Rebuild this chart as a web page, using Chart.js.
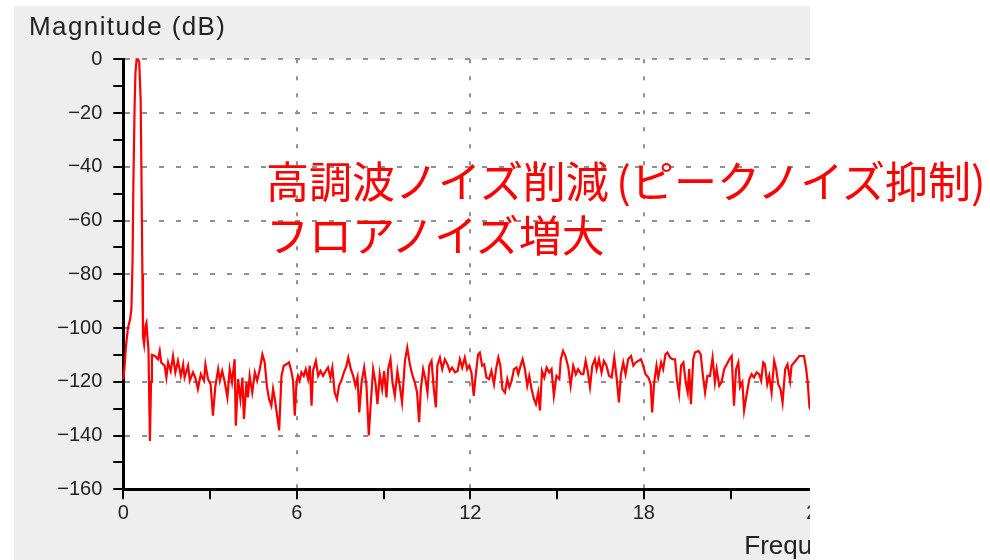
<!DOCTYPE html>
<html>
<head>
<meta charset="utf-8">
<script src="https://cdn.jsdelivr.net/npm/chart.js@4.4.1/dist/chart.umd.min.js"></script>
<style>
html,body{margin:0;padding:0;background:#ffffff;width:990px;height:560px;overflow:hidden;}
#wrap{position:absolute;left:14px;top:6px;width:796px;height:554px;overflow:hidden;background:#eeeeee;}
#c{display:block;}
#note{position:absolute;left:266px;top:152px;color:#ff0000;font-family:"Noto Sans CJK JP","Noto Sans CJK SC",sans-serif;font-size:43px;line-height:54px;white-space:nowrap;}
#note .sp{letter-spacing:-2px;}
</style>
</head>
<body>
<div id="wrap"><canvas id="c" width="1564" height="566"></canvas></div>
<div id="note">高調波ノイズ削減<span class="sp"> </span>(ピークノイズ抑制)<br>フロアノイズ増大</div>
<script>
// Frequency (kHz) of each sample
const freqKHz = [
  0, 0.04, 0.09, 0.16, 0.23, 0.28, 0.32, 0.35, 0.39, 0.42,
  0.46, 0.51, 0.55, 0.60, 0.63, 0.66, 0.68, 0.72, 0.77, 0.80,
  0.84, 0.87, 0.91, 0.92, 0.96, 0.99, 1.09, 1.20, 1.26, 1.31,
  1.43, 1.49, 1.55, 1.64, 1.72, 1.80, 1.89, 1.99, 2.07, 2.12,
  2.24, 2.30, 2.41, 2.49, 2.58, 2.68, 2.79, 2.84, 2.93, 3.02,
  3.10, 3.18, 3.28, 3.34, 3.42, 3.51, 3.60, 3.68, 3.76, 3.85,
  3.89, 3.97, 4.05, 4.12, 4.17, 4.26, 4.31, 4.37, 4.46, 4.55,
  4.63, 4.72, 4.81, 4.89, 4.97, 5.04, 5.12, 5.18, 5.24, 5.32,
  5.39, 5.47, 5.55, 5.64, 5.73, 5.81, 5.87, 5.93, 5.99, 6.04,
  6.10, 6.16, 6.24, 6.31, 6.39, 6.45, 6.51, 6.56, 6.66, 6.74,
  6.82, 6.91, 7.00, 7.08, 7.16, 7.23, 7.31, 7.39, 7.46, 7.54,
  7.63, 7.72, 7.78, 7.87, 7.95, 8.03, 8.10, 8.16, 8.24, 8.33,
  8.41, 8.49, 8.56, 8.64, 8.72, 8.79, 8.87, 8.95, 9.02, 9.10,
  9.16, 9.24, 9.31, 9.39, 9.48, 9.56, 9.64, 9.74, 9.82, 9.91,
  9.99, 10.08, 10.16, 10.23, 10.29, 10.37, 10.45, 10.52, 10.58, 10.66,
  10.74, 10.81, 10.86, 10.95, 11.03, 11.12, 11.21, 11.29, 11.37, 11.47,
  11.56, 11.64, 11.72, 11.81, 11.89, 11.96, 12.04, 12.12, 12.19, 12.27,
  12.33, 12.41, 12.48, 12.56, 12.65, 12.73, 12.82, 12.89, 12.97, 13.04,
  13.11, 13.20, 13.28, 13.35, 13.43, 13.51, 13.60, 13.66, 13.74, 13.81,
  13.89, 13.97, 14.04, 14.12, 14.20, 14.27, 14.35, 14.41, 14.48, 14.56,
  14.64, 14.73, 14.81, 14.89, 14.98, 15.08, 15.13, 15.21, 15.29, 15.39,
  15.47, 15.56, 15.65, 15.73, 15.83, 15.91, 15.99, 16.06, 16.14, 16.22,
  16.31, 16.37, 16.45, 16.54, 16.62, 16.71, 16.80, 16.89, 16.98, 17.06,
  17.14, 17.21, 17.29, 17.37, 17.46, 17.56, 17.64, 17.72, 17.81, 17.90,
  17.98, 18.06, 18.16, 18.24, 18.29, 18.36, 18.44, 18.50, 18.60, 18.67,
  18.75, 18.82, 18.91, 18.99, 19.08, 19.15, 19.22, 19.29, 19.37, 19.45,
  19.52, 19.57, 19.63, 19.71, 19.77, 19.89, 19.97, 20.04, 20.12, 20.20,
  20.29, 20.38, 20.46, 20.52, 20.61, 20.69, 20.78, 20.87, 20.96, 21.04,
  21.12, 21.19, 21.27, 21.33, 21.41, 21.47, 21.56, 21.65, 21.73, 21.81,
  21.90, 21.99, 22.06, 22.13, 22.19, 22.27, 22.34, 22.42, 22.51, 22.58,
  22.65, 22.73, 22.80, 22.89, 22.97, 23.06, 23.11, 23.20, 23.29, 23.38,
  23.46, 23.54, 23.61, 23.67, 23.73, 23.80
];

// Magnitude (dB) at each frequency
const magnitudeDb = [
  -119, -115, -107, -100, -97, -93, -75, -45, -18, -5,
  0, 0, -1, -15, -45, -80, -103, -106, -99, -98,
  -104, -108, -135, -142, -120, -110, -110.4, -111.6, -108.5, -112.8,
  -114, -118.4, -112.8, -116, -110.4, -116.5, -112.2, -117.8, -113.5, -118.4,
  -114, -119.6, -116.5, -118.4, -122.7, -117.2, -119.6, -113.5, -119, -120.9,
  -132.6, -122, -115.3, -119.6, -116, -120.2, -125.8, -115.3, -120.2, -111.6,
  -136.3, -119, -126.4, -118.4, -133.8, -120.2, -125.8, -117.8, -124, -116.5,
  -119.6, -115.3, -109.8, -112.8, -122, -126.4, -128.9, -122.7, -126.4, -132.6,
  -138.1, -117.8, -114, -113.5, -112.8, -116, -119.6, -132.6, -120.2, -117.8,
  -119.6, -116.5, -117.8, -115.3, -119, -114, -128.9, -116, -112.2, -117.8,
  -116, -117.8, -116, -114.7, -118.4, -114.7, -124, -126.4, -121.5, -119.6,
  -116.5, -114, -111, -115.3, -117.8, -121.5, -118.4, -131.4, -120.2, -114.7,
  -121.5, -140, -127.7, -115.3, -120.2, -128.3, -117.2, -122.7, -116, -125.8,
  -115.3, -111.6, -120.2, -125.2, -116, -121.5, -127.7, -112.2, -107.3, -113.5,
  -117.2, -120.2, -124, -135, -122.7, -115.3, -119, -124, -114, -112.2,
  -122.7, -129.5, -114, -111, -115.3, -111.6, -113.5, -116, -114.7, -116.5,
  -116, -111.6, -114.7, -111, -115.3, -114, -116.5, -125.2, -117.2, -109.8,
  -109.1, -114, -113.5, -118.4, -119, -116, -120.9, -115.3, -111, -114,
  -122.7, -124, -119, -122, -119.6, -115.3, -114.7, -117.2, -114, -111.6,
  -115.3, -121.5, -117.8, -122.7, -126.4, -128.3, -124, -130.7, -116, -118.4,
  -114.7, -116.5, -115.3, -125.2, -117.8, -119, -111.6, -108.5, -110.4, -114.7,
  -121.5, -114, -117.2, -115.3, -117, -117.2, -112.2, -116, -122, -114,
  -111.6, -115.3, -111.6, -116.5, -112.2, -114, -117.8, -118.4, -111, -118.4,
  -127.7, -117.2, -112.8, -117.2, -111.6, -110.4, -114, -112.8, -112.2, -111.6,
  -114, -117.2, -118.4, -120.9, -131.4, -120.2, -114, -118.4, -112.8, -115.3,
  -109.8, -109.1, -111, -111.6, -111.6, -119.6, -124.6, -114, -112.8, -120.2,
  -124, -115.3, -128.3, -111.6, -109.1, -108.5, -109.8, -117.2, -124, -117.8,
  -117.8, -111, -120.2, -115.3, -121.5, -120.2, -115.3, -113.5, -111.6, -110.4,
  -128.9, -115.3, -112.8, -122, -120.2, -130.7, -124.6, -119, -117.2, -118.4,
  -116.5, -117.2, -119.6, -112.8, -113.5, -120.9, -117.8, -124, -112.2, -115.3,
  -120.9, -122.7, -127.7, -115.3, -113.5, -119.6, -114, -112.8, -111.6, -110.4,
  -110.4, -110.4, -114.7, -120.2, -129.5, -131
];

// Axis settings
const yMin = -160, yMax = 0, yMinorStep = 10, yLabelStep = 20;
const xMin = 0, xMax = 49.6, xMinorStep = 3, xLabelStep = 6;
const yAxisTitle = 'Magnitude (dB)';
const xAxisTitle = 'Frequency (kHz)';

const FONT = '"Liberation Sans", Arial, Helvetica, sans-serif';
Chart.defaults.font.family = FONT;

const points = freqKHz.map((f, i) => ({ x: f, y: magnitudeDb[i] }));

const plotBg = {
  id: 'plotBg',
  beforeDraw(chart) {
    const { ctx, chartArea: a } = chart;
    ctx.save();
    ctx.fillStyle = '#ffffff';
    ctx.fillRect(a.left, a.top, a.right - a.left, a.bottom - a.top);
    ctx.restore();
    // slightly tracked title text, as in the original
    const tb = chart.titleBlock;
    if (tb && !tb._tracked) {
      const orig = tb.draw.bind(tb);
      tb.draw = function () {
        const c = this.ctx || chart.ctx;
        c.save();
        if ('letterSpacing' in c) c.letterSpacing = '1.4px';
        orig();
        c.restore();
      };
      tb._tracked = true;
    }
  }
};

new Chart(document.getElementById('c'), {
  type: 'line',
  data: {
    datasets: [{
      data: points,
      borderColor: '#ff0000',
      borderWidth: 2.2,
      pointRadius: 0,
      tension: 0,
      fill: false,
      clip: 4
    }]
  },
  options: {
    responsive: false,
    animation: false,
    devicePixelRatio: 1,
    layout: { padding: { left: 15, right: 20.5, top: 0, bottom: 0 } },
    plugins: {
      legend: { display: false },
      tooltip: { enabled: false },
      title: {
        display: true,
        text: yAxisTitle,
        align: 'start',
        color: '#222222',
        font: { family: FONT, size: 26, weight: 'normal' },
        padding: { top: 6.6, bottom: 15.5 }
      }
    },
    scales: {
      x: {
        type: 'linear',
        min: xMin,
        max: xMax,
        afterFit(s) { s.height = 82.7; },
        ticks: {
          stepSize: xMinorStep,
          autoSkip: false,
          maxRotation: 0,
          padding: 2,
          color: '#222222',
          font: { size: 20 },
          callback: v => (v % xLabelStep === 0 ? String(v) : '')
        },
        grid: {
          color: c => (c.tick && c.tick.value % xLabelStep === 0 && c.tick.value !== xMin) ? '#909090' : 'rgba(0,0,0,0)',
          lineWidth: 2,
          drawTicks: true,
          tickLength: 10,
          tickWidth: 2,
          tickColor: '#000000'
        },
        border: { display: true, color: '#000000', width: 3, dash: [4, 13] },
        title: {
          display: true,
          text: xAxisTitle,
          color: '#222222',
          font: { size: 26 },
          padding: { top: 0, bottom: 10 }
        }
      },
      y: {
        type: 'linear',
        min: yMin,
        max: yMax,
        afterFit(s) { s.width = 94.3; },
        ticks: {
          stepSize: yMinorStep,
          autoSkip: false,
          padding: 11,
          color: '#222222',
          font: { size: 20 },
          callback: v => (v % yLabelStep === 0 ? (v < 0 ? '\u2212' + Math.abs(v) : '0') : '')
        },
        grid: {
          color: c => (c.tick && c.tick.value % yLabelStep === 0 && c.tick.value !== yMin) ? '#909090' : 'rgba(0,0,0,0)',
          lineWidth: 2,
          drawTicks: true,
          tickLength: 10,
          tickWidth: 2,
          tickColor: '#000000'
        },
        border: { display: true, color: '#000000', width: 3, dash: [5, 12] }
      }
    }
  },
  plugins: [plotBg]
});
</script>
</body>
</html>
